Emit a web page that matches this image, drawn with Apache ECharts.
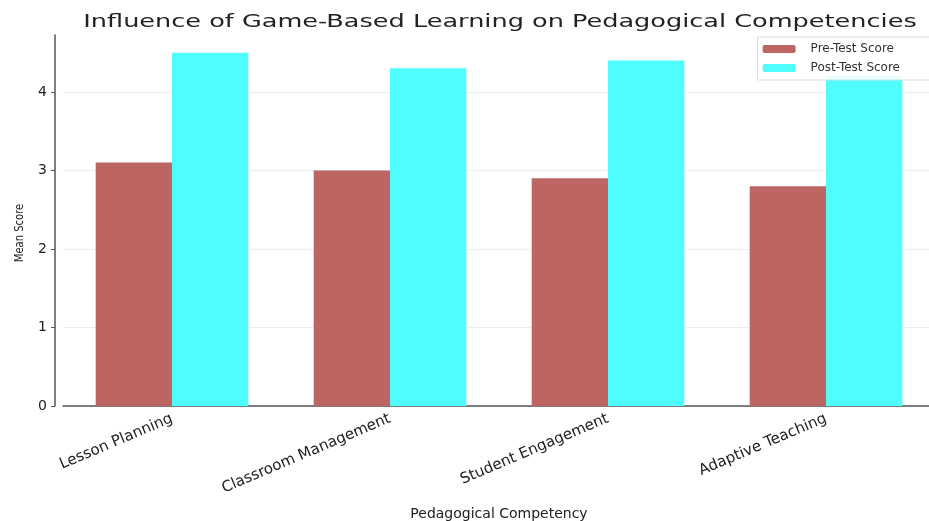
<!DOCTYPE html>
<html>
<head>
<meta charset="utf-8">
<script src="https://cdn.jsdelivr.net/npm/echarts@6/dist/echarts.min.js"></script>
<style>
  html, body { margin: 0; padding: 0; background: #fff; }
  #chart { width: 929px; height: 521px; }
</style>
</head>
<body>
<div id="chart"></div>
<script>
// data
var competencies = ['Lesson Planning', 'Classroom Management', 'Student Engagement', 'Adaptive Teaching']
var preTest = [3.1, 3.0, 2.9, 2.8]
var postTest = [4.5, 4.3, 4.4, 4.2]
var yTicks = [0, 1, 2, 3, 4]

var chart = echarts.init(document.getElementById('chart'))
var font = 'DejaVu Sans'

chart.setOption({
  animation: false,
  // title and y name as graphic text, widened like the reference
  graphic: [
    {
      type: 'text',
      x: 500,
      y: 13,
      scaleX: 1.42,
      style: {
        text: 'Influence of Game-Based Learning on Pedagogical Competencies',
        font: '18px "DejaVu Sans"',
        fill: '#222',
        textAlign: 'center',
        textVerticalAlign: 'top'
      }
    },
    {
      type: 'text',
      x: 20,
      y: 233,
      rotation: Math.PI / 2,
      scaleY: 1.3,
      style: {
        text: 'Mean Score',
        font: '10px "DejaVu Sans"',
        fill: '#222',
        textAlign: 'center',
        textVerticalAlign: 'middle'
      }
    }
  ],
  legend: {
    orient: 'vertical',
    right: -4,
    top: 37,
    itemWidth: 33,
    itemHeight: 8,
    itemGap: 7,
    padding: [6, 33, 6, 5],
    borderColor: '#ddd',
    borderWidth: 1,
    backgroundColor: 'rgba(255,255,255,0.85)',
    textStyle: { fontFamily: font, fontSize: 12, color: '#333', padding: [0, 0, 0, 10] },
    data: ['Pre-Test Score', 'Post-Test Score']
  },
  grid: { left: 63, right: -6, top: 35, bottom: 115, outerBoundsMode: 'none' },
  xAxis: {
    type: 'category',
    data: competencies,
    name: 'Pedagogical Competency',
    nameLocation: 'middle',
    nameGap: 101,
    nameTextStyle: { fontFamily: font, fontSize: 14, color: '#222' },
    axisLine: { lineStyle: { color: '#555', width: 1.5 } },
    axisTick: { show: false },
    axisLabel: {
      interval: 0,
      rotate: 23,
      margin: 12,
      fontFamily: font,
      fontSize: 15,
      color: '#222'
    }
  },
  yAxis: {
    type: 'value',
    min: 0,
    max: 4.725,
    interval: 1,
    offset: 8,
    axisLine: { show: true, lineStyle: { color: '#555', width: 1.5 } },
    axisTick: { show: true, length: 4, customValues: yTicks, lineStyle: { color: '#555' } },
    axisLabel: {
      fontFamily: font,
      fontSize: 14,
      color: '#222',
      customValues: yTicks
    },
    splitLine: { show: true, lineStyle: { color: '#eee', width: 1 } }
  },
  series: [
    {
      name: 'Pre-Test Score',
      type: 'bar',
      data: preTest,
      barWidth: '35%',
      barGap: '0%',
      itemStyle: { color: '#bd6563' }
    },
    {
      name: 'Post-Test Score',
      type: 'bar',
      data: postTest,
      barWidth: '35%',
      barGap: '0%',
      itemStyle: { color: '#50fdfd' }
    }
  ]
})
</script>
</body>
</html>
